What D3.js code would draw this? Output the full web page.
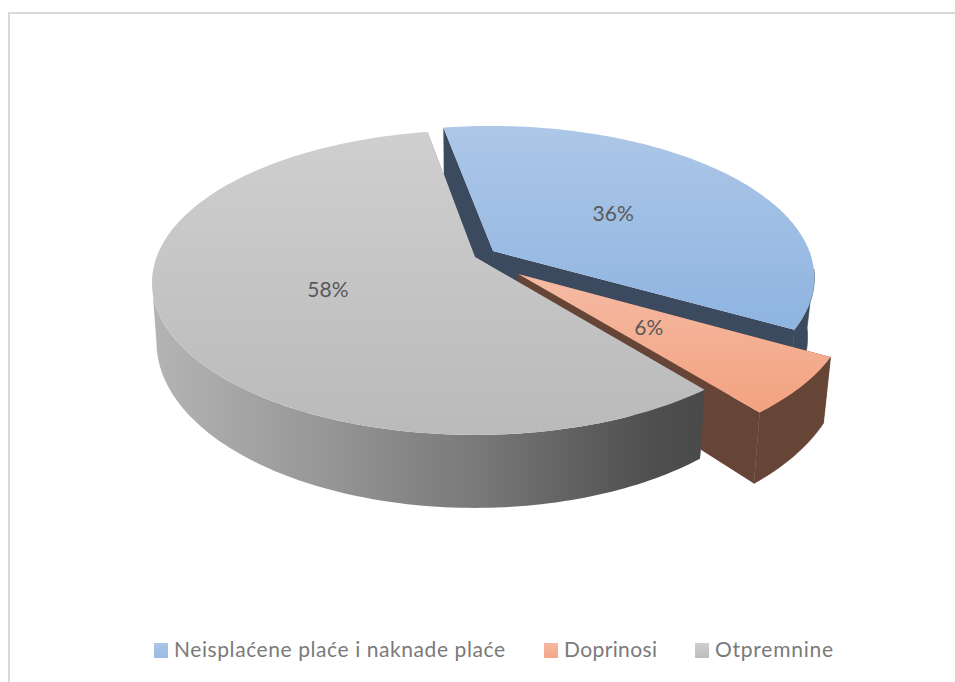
<!DOCTYPE html>
<html>
<head>
<meta charset="utf-8">
<script src="https://cdnjs.cloudflare.com/ajax/libs/d3/7.8.5/d3.min.js"></script>
<style>
  html, body { margin: 0; padding: 0; background: #fff; }
  svg { display: block; }
</style>
</head>
<body>
<div id="chart"></div>
<script>
// chart data
const categories = ['Neisplaćene plaće i naknade plaće', 'Doprinosi', 'Otpremnine'];
const shares = [36, 6, 58];
const explode = [0.07, 0.175, 0];

const topColors = [['#adc7e7', '#8eb4e1'], ['#f5bba4', '#f3a280'], ['#cfcfcf', '#bababa']];
const wallColors = ['#3b4a5e', '#664537', null];
const swatchColors = [['#aac5e6', '#98bbe3'], ['#f5b8a0', '#f4a887'], ['#cecece', '#bdbdbd']];

const width = 955, height = 682;

// projection of the unit disc onto the page, with perspective
const cx = 475, cy = 257;
const A = 318.4, B = 148, k = 0.168;
const depth = 57.5;

function project(X, Y, low){
    const w = 1 - k*Y;
    const sx = A*X/w, sy = B*Y/w;
    if(!low) return [cx+sx, cy+sy];
    // lower rim pulls in a bit toward the middle
    return [cx+sx*(sx>0?0.98:0.986), cy+sy+depth/Math.pow(w,1.3)];
}

const svg = d3.select('#chart').append('svg')
    .attr('width', width)
    .attr('height', height)
    .attr('viewBox', `0 0 ${width} ${height}`);

const defs = svg.append('defs');
function vGrad(id, stops){
    const g = defs.append('linearGradient').attr('id', id)
        .attr('x1', 0).attr('y1', 0).attr('x2', 0).attr('y2', 1);
    g.append('stop').attr('offset', '0%').attr('stop-color', stops[0]);
    g.append('stop').attr('offset', '100%').attr('stop-color', stops[1]);
}
topColors.forEach((c,i)=>vGrad(`top${i}`, c));
swatchColors.forEach((c,i)=>vGrad(`swatch${i}`, c));

const wallGrad = defs.append('linearGradient').attr('id', 'greyWall')
    .attr('gradientUnits', 'userSpaceOnUse')
    .attr('x1', 152).attr('y1', 0).attr('x2', 700).attr('y2', 0);
[[0,'#b4b4b4'],[0.3,'#989898'],[0.6,'#787878'],[0.9,'#505050'],[1,'#4a4a4a']].forEach(s=>{
    wallGrad.append('stop').attr('offset', s[0]).attr('stop-color', s[1]);
});

// frame: only top and left show in the picture
svg.append('path')
    .attr('d', `M9,${height}V13H${width}`)
    .attr('fill', 'none')
    .attr('stroke', '#d9d9d9')
    .attr('stroke-width', 2);

const firstAngle = -10*Math.PI/180;
const pieGen = d3.pie().sort(null)
    .startAngle(firstAngle)
    .endAngle(firstAngle+2*Math.PI);
const arcs = pieGen(shares);

const line = d3.line();

function offsetOf(d){
    const mid = (d.startAngle+d.endAngle)/2;
    const e = explode[d.index];
    return [e*Math.sin(mid), -e*Math.cos(mid)];
}
function pointAt(d, angle, r, low){
    const o = offsetOf(d);
    return project(o[0]+r*Math.sin(angle), o[1]-r*Math.cos(angle), low);
}
function arcPoints(d, low){
    const n = Math.ceil((d.endAngle-d.startAngle)/0.02);
    return d3.range(n+1).map(i=>pointAt(d, d.startAngle+(d.endAngle-d.startAngle)*i/n, 1, low));
}
// the part of the rim that faces the viewer, widest point to widest point
function frontPoints(d, low){
    const a0 = Math.max(d.startAngle, 97*Math.PI/180),
        a1 = Math.min(d.endAngle, 260*Math.PI/180);
    const n = Math.ceil((a1-a0)/0.02);
    return d3.range(n+1).map(i=>pointAt(d, a0+(a1-a0)*i/n, 1, low));
}

// back to front: blue, orange, then the grey slice sits over both
const slices = svg.append('g').selectAll('g.slice')
    .data(arcs)
    .join('g')
    .classed('slice', true);

slices.each(function(d){
    const g = d3.select(this);
    const wall = d.index === 2 ? 'url(#greyWall)' : wallColors[d.index];
    const edge = d.index === 2 ? 'none' : wallColors[d.index];
    const topArc = arcPoints(d, false), lowArc = arcPoints(d, true);
    const apex = pointAt(d, 0, 0, false), apexLow = pointAt(d, 0, 0, true);
    // cut faces
    [[topArc[0], lowArc[0]], [topArc[topArc.length-1], lowArc[lowArc.length-1]]].forEach(e=>{
        g.append('path')
            .attr('d', line([apex, e[0], e[1], apexLow])+'Z')
            .attr('fill', wall);
    });
    // rim
    g.append('path')
        .attr('d', line(frontPoints(d, false).concat(frontPoints(d, true).reverse()))+'Z')
        .attr('fill', wall)
        .attr('stroke', edge)
        .attr('stroke-width', 0.6);
    // top face
    g.append('path')
        .attr('d', line([apex].concat(topArc))+'Z')
        .attr('fill', `url(#top${d.index})`);
});

// data labels
svg.append('g').selectAll('text.label')
    .data(arcs)
    .join('text')
    .classed('label', true)
    .attr('transform', d=>{
        const p = pointAt(d, (d.startAngle+d.endAngle)/2, 0.49, false);
        return `translate(${p})`;
    })
    .attr('text-anchor', 'middle')
    .attr('dy', '0.42em')
    .attr('font-family', 'Lato, sans-serif')
    .attr('font-size', 21)
    .attr('fill', '#595959')
    .text(d=>`${d.data}%`);

// legend
const legendX = d3.scaleOrdinal().domain(categories).range([154, 544, 695]);
const legendEnd = d3.scaleOrdinal().domain(categories).range([505, 657, 833]);
const legend = svg.append('g').selectAll('g.legend')
    .data(categories)
    .join('g')
    .classed('legend', true)
    .attr('transform', d=>`translate(${legendX(d)},643)`);
legend.append('rect')
    .attr('width', 14).attr('height', 15)
    .attr('fill', (d,i)=>`url(#swatch${i})`);
legend.append('text')
    .attr('x', 20).attr('y', 14)
    .attr('font-family', 'Lato, sans-serif')
    .attr('font-size', 21)
    .attr('fill', '#7a7a7a')
    .attr('textLength', d=>legendEnd(d)-legendX(d)-20)
    .attr('lengthAdjust', 'spacing')
    .text(d=>d);
</script>
</body>
</html>
